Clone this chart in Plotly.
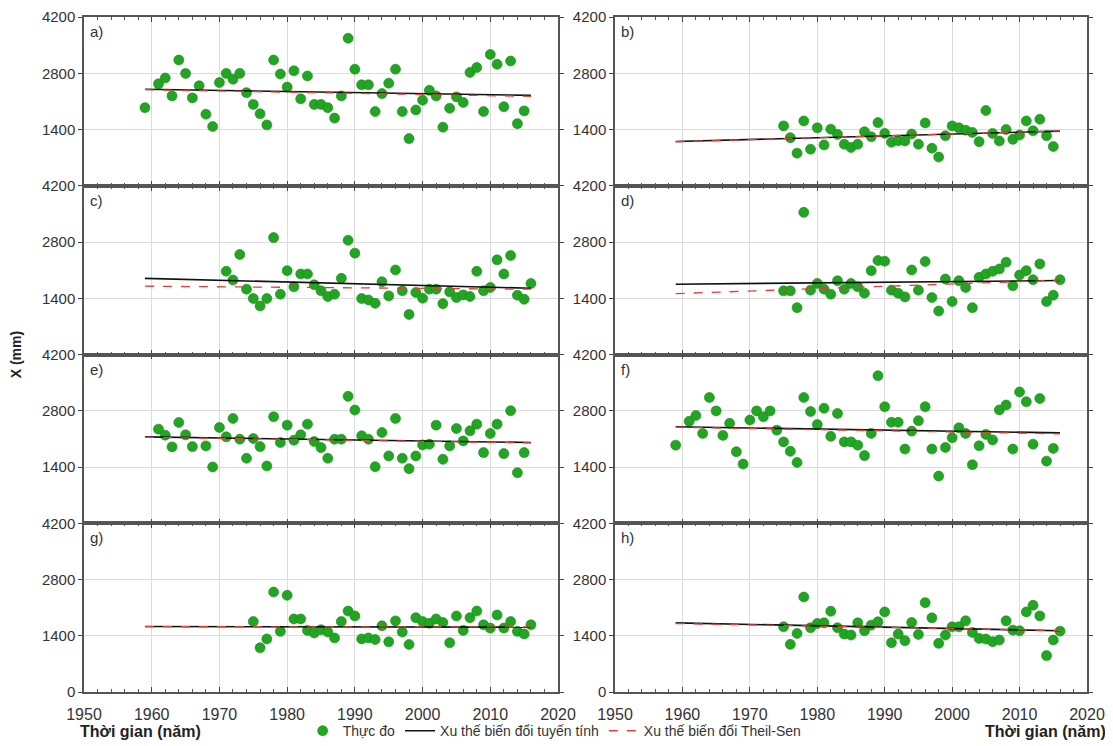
import plotly.graph_objects as go
from plotly.subplots import make_subplots

# ---------------- data ----------------
panel_labels = ["a)", "b)", "c)", "d)", "e)", "f)", "g)", "h)"]

years_a = [1959] + list(range(1961, 2016))
vals_a = [1944, 2536, 2682, 2236, 3129, 2796, 2187, 2488, 1781, 1473,
          2569, 2796, 2650, 2796, 2317, 2025, 1790, 1514, 3129, 2780,
          2455, 2861, 2163, 2731, 2025, 2025, 1944, 1684, 2236, 3672,
          2901, 2512, 2512, 1846, 2293, 2553, 2901, 1846, 1173, 1887,
          2130, 2374, 2236, 1457, 1928, 2212, 2074, 2820, 2942, 1846,
          3267, 3023, 1968, 3104, 1546, 1863]

years_b = list(range(1975, 2016))
vals_b = [1490, 1196, 812, 1612, 910, 1441, 1016, 1408, 1278, 1033,
          951, 1033, 1343, 1220, 1572, 1302, 1082, 1123, 1114, 1286,
          1033, 1563, 935, 714, 1245, 1490, 1441, 1384, 1327, 1098,
          1874, 1302, 1114, 1400, 1155, 1261, 1612, 1367, 1653, 1245, 976]

years_c = list(range(1971, 2017))
vals_c = [2071, 1853, 2490, 1626, 1392, 1207, 1392, 2909, 1501, 2087,
          1685, 2004, 2004, 1735, 1585, 1442, 1501, 1895, 2842, 2523,
          1392, 1358, 1274, 1811, 1459, 2104, 1585, 998, 1543, 1400,
          1626, 1626, 1266, 1559, 1417, 1484, 1442, 2071, 1585, 1668,
          2356, 2004, 2465, 1475, 1375, 1769]

years_d = list(range(1975, 2017))
vals_d = [1584, 1584, 1165, 3538, 1601, 1769, 1626, 1501, 1836, 1626,
          1769, 1685, 1526, 2087, 2339, 2322, 1601, 1526, 1434, 2104,
          1601, 2314, 1417, 1082, 1878, 1317, 1836, 1668, 1165, 1920,
          2004, 2071, 2129, 2297, 1710, 1979, 2087, 1861, 2255, 1317,
          1475, 1861]

years_e = list(range(1961, 1967)) + list(range(1968, 2016))
vals_e = [2342, 2192, 1900, 2508, 2200, 1908, 1925, 1400, 2383, 2150,
          2608, 2092, 1617, 2108, 1908, 1425, 2650, 2008, 2442, 2067,
          2200, 2467, 2033, 1883, 1617, 2092, 2092, 3158, 2817, 2175,
          2092, 1408, 2258, 1675, 2608, 1617, 1358, 1675, 1950, 1967,
          2442, 1592, 1925, 2358, 2050, 2300, 2467, 1758, 2233, 2467,
          1733, 2800, 1258, 1758]

years_f = years_a
vals_f = vals_a

years_g = list(range(1975, 2017))
vals_g = [1753, 1101, 1321, 2487, 1509, 2406, 1819, 1819, 1533, 1468,
          1550, 1493, 1346, 1753, 2014, 1892, 1321, 1346, 1305, 1647,
          1248, 1770, 1493, 1183, 1851, 1753, 1713, 1819, 1729, 1224,
          1892, 1533, 1851, 2014, 1672, 1590, 1917, 1590, 1753, 1509,
          1444, 1672]

years_h = list(range(1975, 2017))
vals_h = [1622, 1186, 1458, 2364, 1598, 1705, 1721, 2009, 1598, 1441,
          1417, 1721, 1524, 1664, 1746, 1993, 1227, 1441, 1277, 1730,
          1433, 2224, 1845, 1211, 1417, 1622, 1622, 1771, 1483, 1334,
          1318, 1252, 1293, 1771, 1540, 1524, 1993, 2158, 1894, 906,
          1293, 1515]

trend_years = [1959, 2016]
linear_trend = [[2400, 2250], [1100, 1360], [1895, 1650], [1750, 1840],
                [2150, 2010], [2400, 2250], [1630, 1615], [1720, 1525]]
theilsen_trend = [[2390, 2225], [1095, 1365], [1700, 1625], [1515, 1850],
                  [2140, 2000], [2390, 2225], [1625, 1620], [1705, 1530]]

years_all = [years_a, years_b, years_c, years_d, years_e, years_f, years_g, years_h]
vals_all = [vals_a, vals_b, vals_c, vals_d, vals_e, vals_f, vals_g, vals_h]

legend_names = ["Thực đo", "Xu thế biến đổi tuyến tính", "Xu thế biến đổi Theil-Sen"]
x_title = "Thời gian (năm)"
y_title = "X (mm)"

# ---------------- figure ----------------
FONT = "Liberation Sans, Arial, sans-serif"
fig = make_subplots(rows=4, cols=2, horizontal_spacing=0.0568, vertical_spacing=0.0)

for i in range(8):
    r = i // 2 + 1
    c = i % 2 + 1
    first = (i == 0)
    fig.add_trace(go.Scatter(
        x=years_all[i], y=vals_all[i], mode="markers",
        marker=dict(color="#22a522", size=10, line=dict(color="#178a17", width=0.6)),
        name=legend_names[0], legendgroup="obs", showlegend=first), row=r, col=c)
    fig.add_trace(go.Scatter(
        x=trend_years, y=linear_trend[i], mode="lines",
        line=dict(color="#111111", width=1.6),
        name=legend_names[1], legendgroup="lin", showlegend=first), row=r, col=c)
    fig.add_trace(go.Scatter(
        x=trend_years, y=theilsen_trend[i], mode="lines",
        line=dict(color="#e0403a", width=1.3, dash="dash"),
        name=legend_names[2], legendgroup="ts", showlegend=first), row=r, col=c)

row_domains = {1: [0.75, 1.0], 2: [0.5, 0.75], 3: [0.25, 0.5], 4: [0.0, 0.25]}
col_domains = {1: [0.0, 0.4726], 2: [0.5294, 1.0]}

for i in range(8):
    r = i // 2 + 1
    c = i % 2 + 1
    bottom = (r == 4)
    fig.update_xaxes(
        range=[1950, 2020], tickmode="linear", tick0=1950, dtick=10,
        domain=col_domains[c], automargin=False, ticklabeloverflow="allow",
        showgrid=True, gridcolor="#dcdcdc", gridwidth=1,
        showline=True, linecolor="#555555", linewidth=1.5, mirror="ticks",
        ticks="inside", ticklen=5, tickcolor="#444444", tickwidth=1,
        minor=dict(dtick=2, ticks="inside", ticklen=3, tickcolor="#555555", showgrid=False),
        showticklabels=bottom, ticklabelstandoff=7,
        tickfont=dict(family=FONT, size=16, color="#333333"),
        zeroline=False, row=r, col=c)
    fig.update_yaxes(
        range=[0, 4200], tickmode="array",
        tickvals=[0, 1400, 2800, 4200] if bottom else [1400, 2800, 4200],
        domain=row_domains[r], automargin=False, ticklabeloverflow="allow",
        showgrid=True, gridcolor="#dcdcdc", gridwidth=1,
        showline=True, linecolor="#555555", linewidth=1.5, mirror="ticks",
        ticks="outside", ticklen=4, tickcolor="#444444",
        tickfont=dict(family=FONT, size=15, color="#333333"),
        zeroline=False, row=r, col=c)
    xref = "x domain" if i == 0 else f"x{i + 1} domain"
    yref = "y domain" if i == 0 else f"y{i + 1} domain"
    fig.add_annotation(text=panel_labels[i], xref=xref, yref=yref, x=0.008, y=0.975,
                       xanchor="left", yanchor="top", showarrow=False,
                       font=dict(family=FONT, size=15, color="#333333"))

fig.add_annotation(text=f"<b>{x_title}</b>", xref="paper", yref="paper",
                   x=-0.006, y=-0.058, xanchor="left", yanchor="middle", showarrow=False,
                   font=dict(family=FONT, size=16, color="#222222"))
fig.add_annotation(text=f"<b>{x_title}</b>", xref="paper", yref="paper",
                   x=1.021, y=-0.058, xanchor="right", yanchor="middle", showarrow=False,
                   font=dict(family=FONT, size=16, color="#222222"))
fig.add_annotation(text=f"<b>{y_title}</b>", xref="paper", yref="paper",
                   x=-0.068, y=0.5, xanchor="center", yanchor="middle", showarrow=False,
                   textangle=-90, font=dict(family=FONT, size=14, color="#222222"))

fig.update_layout(
    width=1105, height=738,
    margin=dict(l=76, r=26, t=9, b=54, autoexpand=False),
    paper_bgcolor="white", plot_bgcolor="white",
    font=dict(family=FONT, size=14, color="#333333"),
    showlegend=True,
    legend=dict(orientation="h", x=0.218, y=-0.058, xanchor="left", yanchor="middle",
                font=dict(family=FONT, size=14, color="#333333"),
                bgcolor="rgba(0,0,0,0)", itemwidth=30, tracegroupgap=0),
)

fig.write_html("out.html")
